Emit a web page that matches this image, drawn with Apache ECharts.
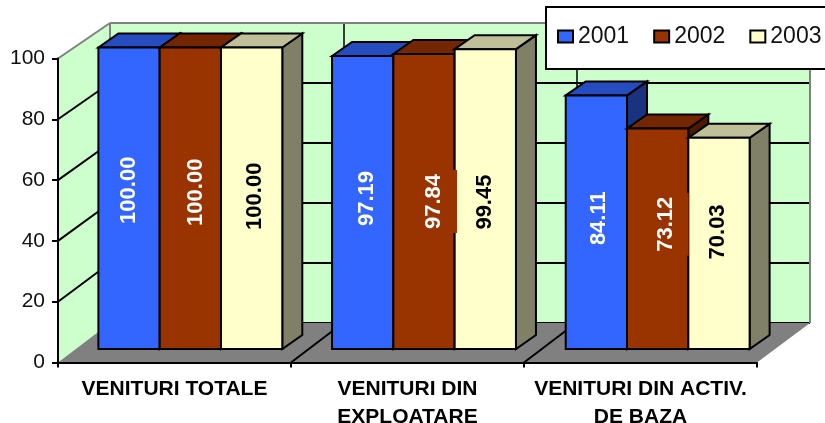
<!DOCTYPE html>
<html><head><meta charset="utf-8">
<style>html,body{margin:0;padding:0;background:#fff;overflow:hidden}#c{width:825px;height:423px}</style>
<script src="https://cdn.jsdelivr.net/npm/echarts@6/dist/echarts.min.js"></script>
</head><body><div id="c"></div>
<script>
const categories = ['VENITURI TOTALE', 'VENITURI DIN\nEXPLOATARE', 'VENITURI DIN ACTIV.\nDE BAZA'];
const years = ['2001', '2002', '2003'];
const values2001 = [100.00, 97.19, 84.11];
const values2002 = [100.00, 97.84, 73.12];
const values2003 = [100.00, 99.45, 70.03];
const yTicks = [0, 20, 40, 60, 80, 100];

const FONT = '"Liberation Sans", Arial, sans-serif';
const FRONT = {left: 58, top: 58.5, width: 699, height: 304};
const PLANE = {left: 73.5, top: 47.5, width: 701, height: 301.5};
const BACK  = {left: 110, top: 23, width: 700, height: 300};
const BAR_W = 61.3, DX = 20, DY = -14;
const COLORS = [
  {front: '#3366FF', top: '#264DBF', side: '#1A3380', text: '#fff'},
  {front: '#993300', top: '#732600', side: '#4D1A00', text: '#fff'},
  {front: '#FFFFCC', top: '#BFBF99', side: '#808066', text: '#000'}
];
// small placement corrections of the value labels [dx, dy], per year and category
const LABEL_NUDGE = [
  [[0,-8],[4,-4],[2.5,-4]],
  [[6,-6],[10,0],[8,-14.5]],
  [[3,-2],[0,3],[-1.5,-11.5]]
];

function barSeries(name, idx, values) {
  const c = COLORS[idx];
  return {
    name, type: 'custom', xAxisIndex: 2, yAxisIndex: 2, z: 5,
    itemStyle: {color: c.front},
    encode: {x: 0, y: 1},
    data: values.map((v, i) => [i, v]),
    renderItem(params, api) {
      const cat = api.value(0), v = api.value(1);
      const t = api.coord([cat, v]), b = api.coord([cat, 0]);
      const x0 = t[0] + (idx - 1.5) * BAR_W, x1 = x0 + BAR_W;
      const line = {stroke: '#000', lineWidth: 2, lineJoin: 'miter'};
      const n = LABEL_NUDGE[idx][cat];
      return {type: 'group', children: [
        {type: 'polygon', shape: {points: [[x1, t[1]], [x1 + DX, t[1] + DY], [x1 + DX, b[1] + DY], [x1, b[1]]]}, style: {fill: c.side, ...line}},
        {type: 'polygon', shape: {points: [[x0, t[1]], [x0 + DX, t[1] + DY], [x1 + DX, t[1] + DY], [x1, t[1]]]}, style: {fill: c.top, ...line}},
        {type: 'rect', shape: {x: x0, y: t[1], width: BAR_W, height: b[1] - t[1]}, style: {fill: c.front, ...line}},
        {type: 'text', z2: 20, rotation: Math.PI / 2,
          x: x0 + BAR_W / 2 + n[0], y: (t[1] + b[1]) / 2 + n[1],
          style: {text: v.toFixed(2), fill: c.text, font: 'bold 22px ' + FONT, align: 'center', verticalAlign: 'middle',
                  backgroundColor: c.front, padding: [12, 4]}}
      ]};
    }
  };
}

const hiddenAxis = (gridIndex, type, extra) => Object.assign({gridIndex, type, show: false}, extra);
const gridOf = box => Object.assign({containLabel: false, outerBoundsMode: 'none'}, box);

const chart = echarts.init(document.getElementById('c'), null, {renderer: 'canvas'});
chart.setOption({
  animation: false,
  backgroundColor: '#fff',
  grid: [gridOf(FRONT), gridOf(BACK), gridOf(PLANE)],
  xAxis: [
    {gridIndex: 0, type: 'category', data: categories, z: 3,
      axisLine: {show: true, lineStyle: {color: '#000', width: 2}},
      axisTick: {show: true, alignWithLabel: false, length: 5, lineStyle: {color: '#000', width: 2}},
      axisLabel: {interval: 0, color: '#000', fontFamily: FONT, fontWeight: 'bold', fontSize: 21, lineHeight: 28, margin: 13, align: 'center'}},
    {gridIndex: 1, type: 'category', data: categories,
      axisLine: {show: false}, axisTick: {show: false}, axisLabel: {show: false},
      splitLine: {show: true, interval: 0, lineStyle: {color: '#000', width: 1.5}}},
    hiddenAxis(2, 'category', {data: categories})
  ],
  yAxis: [
    {gridIndex: 0, type: 'value', min: 0, max: 100, interval: 20, z: 3,
      axisLine: {show: true, lineStyle: {color: '#000', width: 2}},
      axisTick: {show: true, length: 6, lineStyle: {color: '#000', width: 2}},
      axisLabel: {color: '#111', fontFamily: FONT, fontSize: 21, margin: 13},
      splitLine: {show: false}},
    {gridIndex: 1, type: 'value', min: 0, max: 100, interval: 20,
      axisLine: {show: false}, axisTick: {show: false}, axisLabel: {show: false},
      splitLine: {show: true, lineStyle: {color: '#000', width: 2}}},
    hiddenAxis(2, 'value', {min: 0, max: 100, interval: 20})
  ],
  legend: {
    data: years, left: 557, top: 25, padding: 0, icon: 'rect', itemWidth: 15, itemHeight: 12, itemGap: 24, itemTextGap: 5, z: 12,
    itemStyle: {borderColor: '#000', borderWidth: 2},
    textStyle: {color: '#111', fontFamily: FONT, fontSize: 23}
  },
  series: [
    barSeries(years[0], 0, values2001),
    barSeries(years[1], 1, values2002),
    barSeries(years[2], 2, values2003)
  ]
});

// Walls, floor and depth lines follow the axes' own scales
const fy = v => chart.convertToPixel({yAxisIndex: 0}, v);
const by = v => chart.convertToPixel({yAxisIndex: 1}, v);
const fL = FRONT.left, fR = FRONT.left + FRONT.width, bL = BACK.left, bR = BACK.left + BACK.width;
const poly = (points, fill, z) => ({type: 'polygon', z, silent: true, shape: {points}, style: {fill}});
const seg = (a, b, stroke, z) => ({type: 'line', z, silent: true, shape: {x1: a[0], y1: a[1], x2: b[0], y2: b[1]}, style: {stroke, lineWidth: 2}});
const bandEdges = [1, 2].map(i => fL + FRONT.width * i / categories.length);
const elements = [
  poly([[bL, by(100)], [bR, by(100)], [bR, by(0)], [bL, by(0)]], '#CCFFCC', -2),
  poly([[fL, fy(100)], [bL, by(100)], [bL, by(0)], [fL, fy(0)]], '#CCFFCC', -2),
  poly([[fL, fy(0)], [bL, by(0)], [bR, by(0)], [fR, fy(0)]], '#808080', 1),
  seg([fL, fy(100)], [bL, by(100)], '#808080', 2),
  seg([bL, by(100)], [bR, by(100)], '#808080', 2),
  seg([bL, by(100)], [bL, by(0)], '#808080', 2),
  seg([bR, by(100)], [bR, by(0)], '#808080', 2)
];
yTicks.filter(v => v > 0 && v < 100).forEach(v => elements.push(seg([fL, fy(v)], [bL, by(v)], '#000', 2)));
bandEdges.forEach(x => elements.push(seg([x, fy(0)], [x + (bL - fL), by(0)], '#000', 2)));
elements.push({type: 'rect', z: 11, silent: true, shape: {x: 546, y: 7, width: 300, height: 62}, style: {fill: '#fff', stroke: '#000', lineWidth: 2}});
chart.setOption({graphic: {elements}});
</script></body></html>
